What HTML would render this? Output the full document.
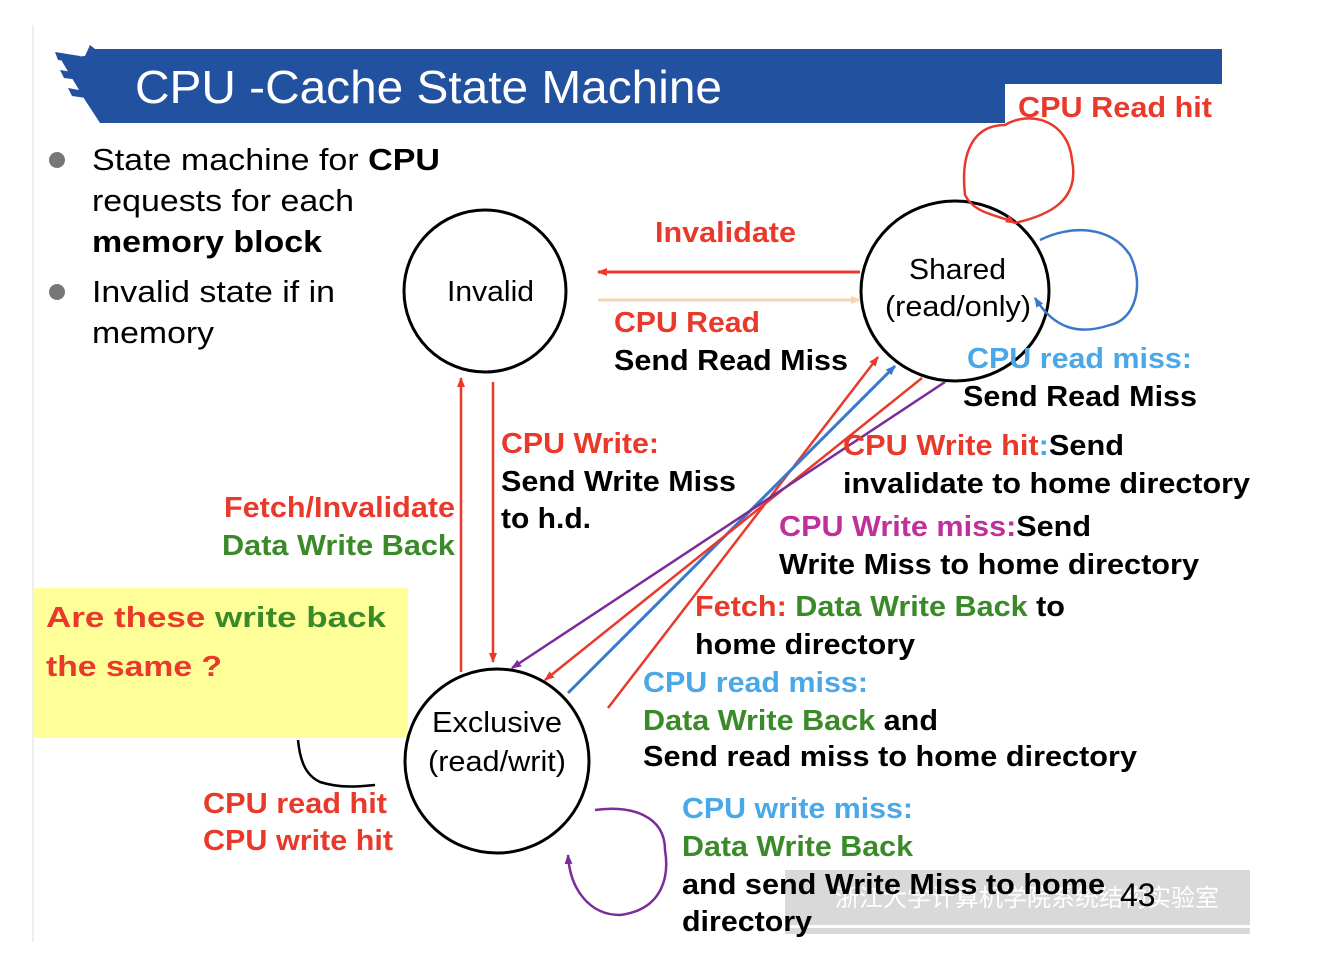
<!DOCTYPE html>
<html><head><meta charset="utf-8"><style>
body{margin:0;background:#fff;}
svg text{font-family:"Liberation Sans","Noto Sans CJK SC",sans-serif;}
.b{font-weight:bold;font-size:29px;}
.n{font-size:31px;fill:#000;}
</style></head><body>
<svg width="1338" height="966" viewBox="0 0 1338 966" xmlns="http://www.w3.org/2000/svg">
<defs>
<marker id="ar" markerWidth="10" markerHeight="10" refX="9" refY="5" orient="auto" markerUnits="userSpaceOnUse"><path d="M0,1 L10,5 L0,9 z" fill="#e8392b"/></marker>
<marker id="ab" markerWidth="10" markerHeight="10" refX="9" refY="5" orient="auto" markerUnits="userSpaceOnUse"><path d="M0,1 L10,5 L0,9 z" fill="#3a78c9"/></marker>
<marker id="ap" markerWidth="10" markerHeight="10" refX="9" refY="5" orient="auto" markerUnits="userSpaceOnUse"><path d="M0,1 L10,5 L0,9 z" fill="#7a2c9a"/></marker>
<marker id="ao" markerWidth="10" markerHeight="10" refX="9" refY="5" orient="auto" markerUnits="userSpaceOnUse"><path d="M0,1 L10,5 L0,9 z" fill="#f5d5b0"/></marker>
</defs>
<line x1="33" y1="25" x2="33" y2="942" stroke="#ddd" stroke-width="1"/>
<polygon points="95,49 1222,49 1222,84 1005,84 1005,123 100,123 85,100 60,58 85,56 90,45" fill="#2251a0"/>
<path d="M55,52 L80,56 L75,62 L58,60 z M60,70 L85,74 L80,80 L64,78 z M68,88 L90,92 L86,98 L72,96 z" fill="#2251a0"/>
<text x="135" y="103" fill="#fff" font-size="46" textLength="587" lengthAdjust="spacingAndGlyphs">CPU -Cache State Machine</text>
<text x="1018" y="117" class="b" fill="#e8392b" textLength="194" lengthAdjust="spacingAndGlyphs">CPU Read hit</text>
<circle cx="57" cy="160" r="8" fill="#777"/>
<circle cx="57" cy="292" r="8" fill="#777"/>
<text x="92" y="170" class="n" textLength="348" lengthAdjust="spacingAndGlyphs">State machine for <tspan font-weight="bold">CPU</tspan></text>
<text x="92" y="211" class="n" textLength="262" lengthAdjust="spacingAndGlyphs">requests for each</text>
<text x="92" y="252" class="n" font-weight="bold" textLength="230" lengthAdjust="spacingAndGlyphs">memory block</text>
<text x="92" y="302" class="n" textLength="243" lengthAdjust="spacingAndGlyphs">Invalid state if in</text>
<text x="92" y="343" class="n" textLength="122" lengthAdjust="spacingAndGlyphs">memory</text>
<rect x="33" y="588" width="375" height="150" fill="#ffff99"/>
<text x="46" y="627" class="b" font-size="30" textLength="340" lengthAdjust="spacingAndGlyphs"><tspan fill="#e8392b">Are these </tspan><tspan fill="#3a8a2a"> write back</tspan></text>
<text x="46" y="676" class="b" font-size="30" fill="#e8392b" textLength="176" lengthAdjust="spacingAndGlyphs">the same ?</text>
<circle cx="485" cy="291" r="81" fill="#fff" stroke="#000" stroke-width="3"/>
<text x="447" y="301" font-size="29" textLength="87" lengthAdjust="spacingAndGlyphs">Invalid</text>
<ellipse cx="955" cy="291" rx="94" ry="90" fill="#fff" stroke="#000" stroke-width="3"/>
<text x="909" y="279" font-size="29" textLength="97" lengthAdjust="spacingAndGlyphs">Shared</text>
<text x="885" y="316" font-size="29" textLength="146" lengthAdjust="spacingAndGlyphs">(read/only)</text>
<circle cx="497" cy="761" r="92" fill="#fff" stroke="#000" stroke-width="3"/>
<text x="432" y="732" font-size="29" textLength="130" lengthAdjust="spacingAndGlyphs">Exclusive</text>
<text x="428" y="771" font-size="29" textLength="138" lengthAdjust="spacingAndGlyphs">(read/writ)</text>
<line x1="860" y1="272" x2="598" y2="272" stroke="#e8392b" stroke-width="3" marker-end="url(#ar)"/>
<line x1="598" y1="300" x2="860" y2="300" stroke="#f5d5b0" stroke-width="3" marker-end="url(#ao)"/>
<line x1="461" y1="672" x2="461" y2="378" stroke="#e8392b" stroke-width="2.5" marker-end="url(#ar)"/>
<line x1="493" y1="382" x2="493" y2="662" stroke="#e8392b" stroke-width="2.5" marker-end="url(#ar)"/>
<line x1="608" y1="708" x2="878" y2="357" stroke="#e8392b" stroke-width="2.5" marker-end="url(#ar)"/>
<line x1="568" y1="693" x2="895" y2="366" stroke="#3a78c9" stroke-width="3" marker-end="url(#ab)"/>
<line x1="922" y1="378" x2="545" y2="680" stroke="#e8392b" stroke-width="2.5" marker-end="url(#ar)"/>
<line x1="945" y1="382" x2="512" y2="668" stroke="#7a2c9a" stroke-width="2.5" marker-end="url(#ap)"/>
<path d="M1015,223 C1050,215 1080,200 1072,160 C1068,120 1030,110 1005,125 C975,125 960,150 965,195 C975,215 1000,215 1015,223" fill="none" stroke="#e8392b" stroke-width="2.5" marker-end="url(#ar)"/>
<path d="M1040,240 C1070,225 1110,225 1130,255 C1145,285 1135,320 1110,325 C1080,335 1055,330 1035,298" fill="none" stroke="#3a78c9" stroke-width="2.5" marker-end="url(#ab)"/>
<path d="M298,740 C300,760 305,775 320,782 C345,790 370,785 375,785" fill="none" stroke="#000" stroke-width="2.5"/>
<path d="M595,810 C630,805 665,815 665,850 C670,880 660,910 620,915 C590,915 570,890 568,855" fill="none" stroke="#7a2c9a" stroke-width="2.5" marker-end="url(#ap)"/>
<rect x="785" y="870" width="465" height="55" fill="#d9d9d9"/>
<rect x="785" y="928" width="465" height="6" fill="#d9d9d9"/>
<text x="835" y="906" font-size="24" fill="#fff">浙江大学计算机学院系统结构实验室</text>
<text x="1120" y="906" font-size="32" fill="#000">43</text>
<text x="655" y="242" class="b" fill="#e8392b" textLength="141" lengthAdjust="spacingAndGlyphs">Invalidate</text>
<text x="614" y="332" class="b" fill="#e8392b" textLength="146" lengthAdjust="spacingAndGlyphs">CPU Read</text>
<text x="614" y="370" class="b" textLength="234" lengthAdjust="spacingAndGlyphs">Send Read Miss</text>
<text x="967" y="368" class="b" fill="#4aa8e8" textLength="225" lengthAdjust="spacingAndGlyphs">CPU read miss:</text>
<text x="963" y="406" class="b" textLength="234" lengthAdjust="spacingAndGlyphs">Send Read Miss</text>
<text x="501" y="453" class="b" fill="#e8392b" textLength="158" lengthAdjust="spacingAndGlyphs">CPU Write:</text>
<text x="501" y="491" class="b" textLength="235" lengthAdjust="spacingAndGlyphs">Send Write Miss</text>
<text x="501" y="528" class="b" textLength="90" lengthAdjust="spacingAndGlyphs">to h.d.</text>
<text x="843" y="455" class="b" textLength="281" lengthAdjust="spacingAndGlyphs"><tspan fill="#e8392b">CPU Write hit</tspan><tspan fill="#4aa8e8">:</tspan>Send</text>
<text x="843" y="493" class="b" textLength="407" lengthAdjust="spacingAndGlyphs">invalidate to home directory</text>
<text x="224" y="517" class="b" fill="#e8392b" textLength="231" lengthAdjust="spacingAndGlyphs">Fetch/Invalidate</text>
<text x="222" y="555" class="b" fill="#3a8a2a" textLength="233" lengthAdjust="spacingAndGlyphs">Data Write Back</text>
<text x="779" y="536" class="b" textLength="312" lengthAdjust="spacingAndGlyphs"><tspan fill="#c0309a">CPU Write miss:</tspan>Send</text>
<text x="779" y="574" class="b" textLength="420" lengthAdjust="spacingAndGlyphs">Write Miss to home directory</text>
<text x="695" y="616" class="b" textLength="370" lengthAdjust="spacingAndGlyphs"><tspan fill="#e8392b">Fetch: </tspan><tspan fill="#3a8a2a">Data Write Back</tspan> to</text>
<text x="695" y="654" class="b" textLength="220" lengthAdjust="spacingAndGlyphs">home directory</text>
<text x="643" y="692" class="b" fill="#4aa8e8" textLength="225" lengthAdjust="spacingAndGlyphs">CPU read miss:</text>
<text x="643" y="730" class="b" textLength="295" lengthAdjust="spacingAndGlyphs"><tspan fill="#3a8a2a">Data Write Back</tspan> and</text>
<text x="643" y="766" class="b" textLength="494" lengthAdjust="spacingAndGlyphs">Send read miss to home directory</text>
<text x="203" y="813" class="b" fill="#e8392b" textLength="184" lengthAdjust="spacingAndGlyphs">CPU read hit</text>
<text x="203" y="850" class="b" fill="#e8392b" textLength="190" lengthAdjust="spacingAndGlyphs">CPU write hit</text>
<text x="682" y="818" class="b" fill="#4aa8e8" textLength="231" lengthAdjust="spacingAndGlyphs">CPU write miss:</text>
<text x="682" y="856" class="b" fill="#3a8a2a" textLength="231" lengthAdjust="spacingAndGlyphs">Data Write Back</text>
<text x="682" y="894" class="b" textLength="423" lengthAdjust="spacingAndGlyphs">and send Write Miss to home</text>
<text x="682" y="931" class="b" textLength="130" lengthAdjust="spacingAndGlyphs">directory</text>
</svg>
</body></html>
